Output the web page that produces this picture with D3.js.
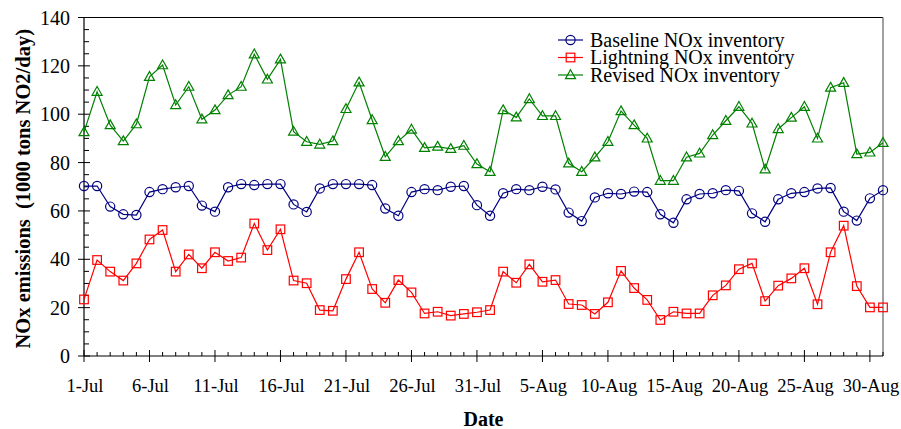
<!DOCTYPE html>
<html>
<head>
<meta charset="utf-8">
<script src="https://cdn.jsdelivr.net/npm/d3@7"></script>
<style>
  html, body { margin: 0; padding: 0; background: #fff; }
  svg { display: block; }
</style>
</head>
<body>
<svg id="chart" width="901" height="429"></svg>
<script>
// ---------- data ----------
const dates = [
  "1-Jul","2-Jul","3-Jul","4-Jul","5-Jul","6-Jul","7-Jul","8-Jul","9-Jul","10-Jul",
  "11-Jul","12-Jul","13-Jul","14-Jul","15-Jul","16-Jul","17-Jul","18-Jul","19-Jul","20-Jul",
  "21-Jul","22-Jul","23-Jul","24-Jul","25-Jul","26-Jul","27-Jul","28-Jul","29-Jul","30-Jul",
  "31-Jul","1-Aug","2-Aug","3-Aug","4-Aug","5-Aug","6-Aug","7-Aug","8-Aug","9-Aug",
  "10-Aug","11-Aug","12-Aug","13-Aug","14-Aug","15-Aug","16-Aug","17-Aug","18-Aug","19-Aug",
  "20-Aug","21-Aug","22-Aug","23-Aug","24-Aug","25-Aug","26-Aug","27-Aug","28-Aug","29-Aug",
  "30-Aug","31-Aug"
];
const tickLabels = ["1-Jul","6-Jul","11-Jul","16-Jul","21-Jul","26-Jul","31-Jul",
  "5-Aug","10-Aug","15-Aug","20-Aug","25-Aug","30-Aug"];
const yTicks = [0, 20, 40, 60, 80, 100, 120, 140];

const baseline = [
  70.3, 70.3, 61.8, 58.6, 58.3, 67.8, 69.0, 69.8, 70.3, 62.2,
  59.7, 69.8, 71.1, 70.7, 71.1, 71.1, 62.7, 59.6, 69.3, 71.1,
  71.1, 71.1, 70.7, 61.0, 58.0, 67.8, 69.0, 68.6, 70.0, 70.3,
  62.4, 58.0, 67.3, 69.0, 68.6, 70.0, 68.9, 59.3, 55.8, 65.6,
  67.3, 67.0, 68.0, 67.8, 58.6, 55.1, 64.8, 67.0, 67.3, 68.6,
  68.3, 59.0, 55.5, 64.8, 67.3, 67.8, 69.3, 69.5, 59.7, 56.0,
  65.2, 68.6
];
const lightning = [
  23.4, 39.7, 34.9, 31.2, 38.3, 48.2, 52.1, 34.9, 42.0, 36.3,
  42.9, 39.3, 40.7, 54.8, 43.8, 52.4, 31.2, 30.1, 19.0, 18.7,
  31.8, 42.9, 27.7, 22.0, 31.4, 26.3, 17.6, 18.3, 16.7, 17.4,
  18.1, 19.0, 34.9, 30.3, 37.9, 30.7, 31.4, 21.5, 21.1, 17.4,
  22.2, 35.2, 28.1, 23.2, 14.9, 18.3, 17.6, 17.6, 25.1, 29.2,
  35.9, 38.3, 22.7, 29.1, 32.1, 36.3, 21.4, 42.9, 53.9, 28.9,
  20.1, 20.1
];
const revised = [
  92.6, 109.3, 95.5, 88.9, 95.9, 115.5, 120.3, 103.8, 111.4, 97.9,
  101.7, 107.9, 111.4, 124.8, 114.4, 122.7, 92.8, 88.6, 87.5, 88.9,
  102.2, 113.2, 97.6, 82.4, 88.9, 93.7, 86.1, 86.6, 85.7, 87.0,
  79.4, 76.2, 101.7, 98.7, 106.3, 99.3, 99.3, 79.7, 76.2, 82.2,
  88.6, 101.3, 95.5, 90.0, 72.5, 72.5, 82.2, 83.8, 91.4, 97.3,
  103.1, 96.2, 77.2, 93.9, 98.6, 103.1, 90.0, 111.0, 113.0, 83.5,
  84.2, 88.2
];
const seriesNames = ["Baseline NOx inventory", "Lightning NOx inventory", "Revised NOx inventory"];
const seriesColors = ["#000080", "#ff0000", "#008000"];
const seriesMarkers = ["circle", "square", "triangle"];
const seriesValues = [baseline, lightning, revised];

// ---------- layout ----------
const FONT = "'Liberation Serif', 'DejaVu Serif', 'Noto Serif', serif";
const svg = d3.select("#chart").style("font-family", FONT);
const pLeft = 84, pRight = 883, pTop = 17.5, pBottom = 356;

const x = d3.scaleLinear().domain([0, dates.length - 1]).range([pLeft, pRight]);
const y = d3.scaleLinear().domain([0, 140]).range([pBottom, pTop]);

// frame: top black, right gray
svg.append("line").attr("x1", pLeft).attr("x2", pRight).attr("y1", pTop).attr("y2", pTop)
  .attr("stroke", "#000").attr("stroke-width", 1);
svg.append("line").attr("x1", pRight).attr("x2", pRight).attr("y1", pTop).attr("y2", pBottom)
  .attr("stroke", "#808080").attr("stroke-width", 1.5);

// y axis: major ticks crossing, minor inside
const yMinor = d3.range(0, 141, 5).filter(v => v % 20 !== 0);
const yAxisG = svg.append("g");
yAxisG.append("line").attr("x1", pLeft).attr("x2", pLeft).attr("y1", pTop).attr("y2", pBottom)
  .attr("stroke", "#000").attr("stroke-width", 1.2);
yAxisG.selectAll("line.major").data(yTicks).join("line").attr("class", "major")
  .attr("x1", pLeft - 6).attr("x2", pLeft + 6)
  .attr("y1", d => y(d)).attr("y2", d => y(d))
  .attr("stroke", "#000").attr("stroke-width", 1);
yAxisG.selectAll("line.minor").data(yMinor).join("line").attr("class", "minor")
  .attr("x1", pLeft).attr("x2", pLeft + 5)
  .attr("y1", d => y(d)).attr("y2", d => y(d))
  .attr("stroke", "#000").attr("stroke-width", 1);
yAxisG.selectAll("text").data(yTicks).join("text")
  .attr("x", 70).attr("y", d => y(d)).attr("dy", "0.35em")
  .attr("text-anchor", "end").attr("font-size", 20).attr("fill", "#000")
  .style("font-family", FONT)
  .text(d => d);

// x axis
const xMajorIdx = tickLabels.map(l => dates.indexOf(l));
const xMinorIdx = d3.range(dates.length).filter(i => !xMajorIdx.includes(i));
const xAxisG = svg.append("g");
xAxisG.append("line").attr("x1", pLeft).attr("x2", pRight).attr("y1", pBottom).attr("y2", pBottom)
  .attr("stroke", "#000").attr("stroke-width", 1.2);
xAxisG.selectAll("line.major").data(xMajorIdx).join("line").attr("class", "major")
  .attr("x1", d => x(d)).attr("x2", d => x(d))
  .attr("y1", pBottom - 6).attr("y2", pBottom + 6)
  .attr("stroke", "#000").attr("stroke-width", 1);
xAxisG.selectAll("line.minor").data(xMinorIdx).join("line").attr("class", "minor")
  .attr("x1", d => x(d)).attr("x2", d => x(d))
  .attr("y1", pBottom - 4).attr("y2", pBottom)
  .attr("stroke", "#000").attr("stroke-width", 1);
xAxisG.selectAll("text").data(tickLabels).join("text")
  .attr("x", d => x(dates.indexOf(d)) + 1).attr("y", 386).attr("dy", "0.35em")
  .attr("text-anchor", "middle").attr("font-size", 18.5).attr("fill", "#000")
  .style("font-family", FONT)
  .text(d => d);

// axis titles
svg.append("text").attr("x", (pLeft + pRight) / 2).attr("y", 419).attr("dy", "0.35em")
  .attr("text-anchor", "middle").attr("font-size", 20).attr("font-weight", "bold")
  .style("font-family", FONT)
  .text("Date");
svg.append("text")
  .attr("transform", `translate(23,${(pTop + pBottom) / 2 + 2}) rotate(-90)`)
  .attr("dy", "0.35em").attr("text-anchor", "middle")
  .attr("font-size", 20.5).attr("font-weight", "bold")
  .style("font-family", FONT)
  .style("white-space", "pre")
  .text("NOx emissions  (1000 tons NO2/day)");

// markers
function drawMarker(sel, type, color) {
  if (type === "circle") {
    sel.append("circle").attr("r", 4.6).attr("fill", "none")
      .attr("stroke", color).attr("stroke-width", 1.2);
  } else if (type === "square") {
    sel.append("rect").attr("x", -4.3).attr("y", -4.3).attr("width", 8.6).attr("height", 8.6)
      .attr("fill", "none").attr("stroke", color).attr("stroke-width", 1.2);
  } else {
    sel.append("path").attr("d", "M0,-5.2L5,3.6L-5,3.6Z").attr("fill", "none")
      .attr("stroke", color).attr("stroke-width", 1.2);
  }
}

const lineGen = d3.line().x((d, i) => x(i)).y(d => y(d));
seriesValues.forEach((vals, s) => {
  const g = svg.append("g");
  g.append("path").datum(vals).attr("d", lineGen).attr("fill", "none")
    .attr("stroke", seriesColors[s]).attr("stroke-width", 1.2);
  const pts = g.selectAll("g.pt").data(vals).join("g").attr("class", "pt")
    .attr("transform", (d, i) => `translate(${x(i)},${y(d)})`);
  drawMarker(pts, seriesMarkers[s], seriesColors[s]);
});

// legend
const legendRows = [40, 57.5, 75];
seriesNames.forEach((name, s) => {
  const g = svg.append("g").attr("transform", `translate(0,${legendRows[s]})`);
  g.append("line").attr("x1", 558).attr("x2", 583).attr("y1", 0).attr("y2", 0)
    .attr("stroke", seriesColors[s]).attr("stroke-width", 1.2);
  const m = g.append("g").attr("transform", "translate(570.5,0)");
  drawMarker(m, seriesMarkers[s], seriesColors[s]);
  g.append("text").attr("x", 590).attr("y", 0).attr("dy", "0.33em")
    .attr("font-size", 20).attr("fill", "#000").style("font-family", FONT).text(name);
});
</script>
</body>
</html>
